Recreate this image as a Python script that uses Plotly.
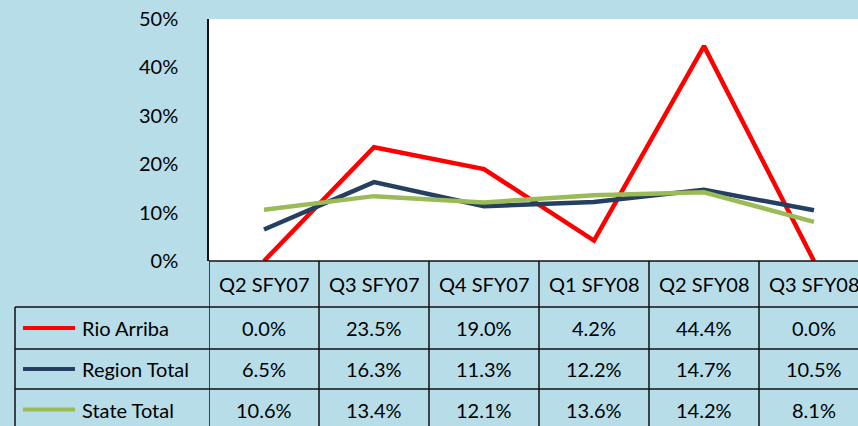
import plotly.graph_objects as go

# Chart data
quarters = ["Q2 SFY07", "Q3 SFY07", "Q4 SFY07", "Q1 SFY08", "Q2 SFY08", "Q3 SFY08"]
rio_arriba = [0.0, 23.5, 19.0, 4.2, 44.4, 0.0]
region_total = [6.5, 16.3, 11.3, 12.2, 14.7, 10.5]
state_total = [10.6, 13.4, 12.1, 13.6, 14.2, 8.1]
y_ticks = [0, 10, 20, 30, 40, 50]

series = [
    ("Rio Arriba", rio_arriba, "#FF0000"),
    ("Region Total", region_total, "#243F60"),
    ("State Total", state_total, "#9BBB59"),
]

W, H = 858, 426
LEFT, TOP, BOTTOM = 209, 19, 261
PLOT_W = W - LEFT
PLOT_H = BOTTOM - TOP
BG = "#B7DDE8"
FONT = "Lato"
GRID = "#111111"
TXT = 20


# pixel -> paper helpers for the data table under the plot
def px_x(px):
    return (px - LEFT) / PLOT_W


def px_y(py):
    return (BOTTOM - py) / PLOT_H


fig = go.Figure()

for name, vals, color in series:
    fig.add_trace(
        go.Scatter(
            x=quarters,
            y=vals,
            mode="lines",
            name=name,
            line={"color": color, "width": 4.5},
            showlegend=False,
        )
    )

shapes = []
annotations = []

# table row boundaries (pixels)
header_bottom = 307
row_edges = [307, 349, 389, 430]

# vertical column lines through category positions
for i in range(len(quarters) + 1):
    shapes.append(
        dict(type="line", xref="x", yref="paper",
             x0=i - 0.5, x1=i - 0.5, y0=0, y1=px_y(430),
             line={"color": GRID, "width": 1.5})
    )
# legend column left border
shapes.append(
    dict(type="line", xref="paper", yref="paper",
         x0=px_x(15), x1=px_x(15), y0=px_y(307), y1=px_y(430),
         line={"color": GRID, "width": 1.5})
)
# horizontal row lines
for py in row_edges[:-1]:
    shapes.append(
        dict(type="line", xref="paper", yref="paper",
             x0=px_x(15), x1=1.05, y0=px_y(py), y1=px_y(py),
             line={"color": GRID, "width": 1.5})
    )
# bottom axis line
shapes.append(
    dict(type="line", xref="paper", yref="paper",
         x0=0, x1=1.05, y0=0, y1=0,
         line={"color": GRID, "width": 1.5})
)

# header row
for q in quarters:
    annotations.append(
        dict(x=q, xref="x", y=px_y((BOTTOM + header_bottom) / 2), yref="paper",
             xanchor="center", yanchor="middle",
             text=q, showarrow=False, font={"size": TXT, "color": "#000000"})
    )

# value rows + legend keys
for r, (name, vals, color) in enumerate(series):
    yc = px_y((row_edges[r] + row_edges[r + 1]) / 2)
    shapes.append(
        dict(type="line", xref="paper", yref="paper",
             x0=px_x(23), x1=px_x(75), y0=yc, y1=yc,
             line={"color": color, "width": 4})
    )
    annotations.append(
        dict(x=px_x(80), xref="paper", y=yc, yref="paper",
             xanchor="left", yanchor="middle",
             text=name, showarrow=False, font={"size": TXT, "color": "#000000"})
    )
    for q, v in zip(quarters, vals):
        annotations.append(
            dict(x=q, xref="x", y=yc, yref="paper",
                 xanchor="center", yanchor="middle",
                 text=f"{v:.1f}%", showarrow=False,
                 font={"size": TXT, "color": "#000000"})
        )

fig.update_layout(
    width=W,
    height=H,
    margin={"l": LEFT, "r": 0, "t": TOP, "b": H - BOTTOM, "pad": 0},
    paper_bgcolor=BG,
    plot_bgcolor="#FFFFFF",
    font={"family": FONT, "size": TXT, "color": "#000000"},
    shapes=shapes,
    annotations=annotations,
    xaxis={
        "type": "category",
        "categoryorder": "array",
        "categoryarray": quarters,
        "range": [-0.5, -0.5 + PLOT_W / 110],
        "showticklabels": False,
        "showgrid": False,
        "zeroline": False,
        "showline": False,
        "ticks": "",
    },
    yaxis={
        "range": [0, 50],
        "tickvals": y_ticks,
        "ticktext": [f"{t}%" for t in y_ticks],
        "showgrid": False,
        "zeroline": False,
        "showline": True,
        "linecolor": GRID,
        "linewidth": 1.5,
        "ticks": "",
        "ticklabelstandoff": 25,
        "tickfont": {"size": 20},
    },
)

# drop the default page margin so the chart fills the window
fig.write_html(
    "out.html",
    config={"displayModeBar": False},
    post_script="document.body.style.margin='0';",
)
